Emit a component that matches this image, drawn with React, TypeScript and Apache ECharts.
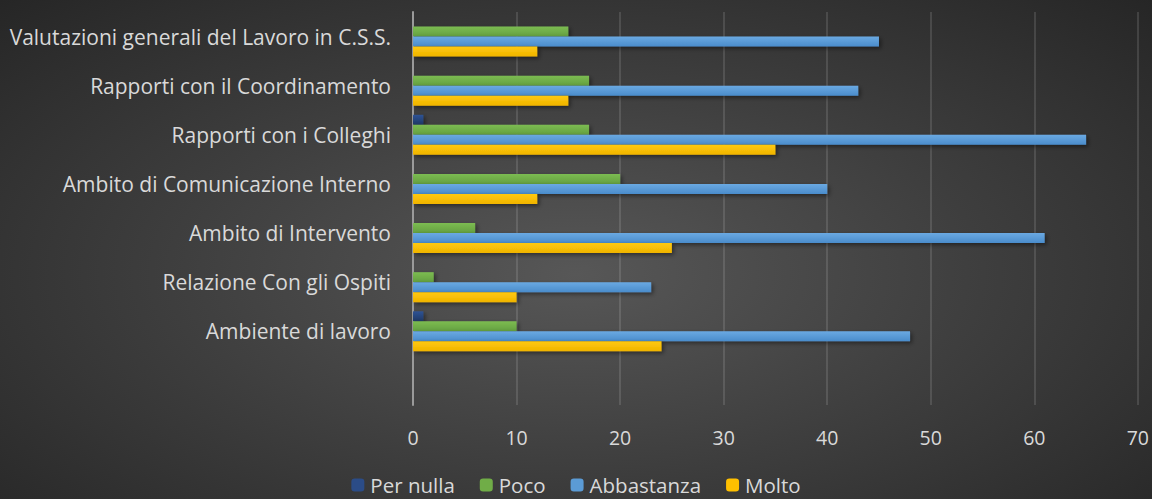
import React, { useEffect, useRef } from "react";
import * as echarts from "echarts";

const categories = [
  "",
  "Ambiente di lavoro",
  "Relazione Con gli Ospiti",
  "Ambito di Intervento",
  "Ambito di Comunicazione Interno",
  "Rapporti con i Colleghi",
  "Rapporti con il Coordinamento",
  "Valutazioni generali del Lavoro in C.S.S.",
];

const perNulla = [null, 1, 0, 0, 0, 1, 0, 0];
const poco = [null, 10, 2, 6, 20, 17, 17, 15];
const abbastanza = [null, 48, 23, 61, 40, 65, 43, 45];
const molto = [null, 24, 10, 25, 12, 35, 15, 12];

const seriesNames = ["Per nulla", "Poco", "Abbastanza", "Molto"];
const xTicks = [0, 10, 20, 30, 40, 50, 60, 70];

const grad = (top: string, bottom: string) =>
  new echarts.graphic.LinearGradient(0, 0, 0, 1, [
    { offset: 0, color: top },
    { offset: 1, color: bottom },
  ]);

export default function App() {
  const ref = useRef<HTMLDivElement>(null);
  useEffect(() => {
    document.body.style.margin = "0";
    const chart = echarts.init(ref.current!, null, { renderer: "svg" });
    const colors = [
      grad("#2e5395", "#1f3864"),
      grad("#7cbc52", "#64a03f"),
      grad("#6aa9e2", "#4a8ccb"),
      grad("#ffc90f", "#f0b400"),
    ];
    const legendColors = ["#2b4c87", "#70ad47", "#5b9bd5", "#ffc000"];
    const dataSets = [perNulla, poco, abbastanza, molto];
    const font = "Open Sans";
    chart.setOption({
      animation: false,
      textStyle: { fontFamily: font },
      legend: {
        top: 474,
        left: "center",
        itemWidth: 13,
        itemHeight: 13,
        itemGap: 25,
        padding: 0,
        textStyle: { color: "#d9d9d9", fontSize: 20.5, lineHeight: 22, fontFamily: font, padding: [0, 0, 0, 1] },
        data: seriesNames.map((n, i) => ({ name: n, itemStyle: { color: legendColors[i] } })),
      },
      grid: { left: 413, right: 13, top: 12, bottom: 94, containLabel: false },
      xAxis: {
        type: "value",
        min: 0,
        max: 70,
        interval: 10,
        axisLine: { show: false },
        axisTick: { show: false },
        axisLabel: {
          color: "#d9d9d9",
          fontSize: 19.5,
          margin: 22,
          formatter: (v: number) => (xTicks.includes(v) ? String(v) : ""),
        },
        splitLine: { lineStyle: { color: "rgba(255,255,255,0.12)", width: 2 } },
      },
      yAxis: {
        type: "category",
        data: categories,
        axisLine: { show: true, lineStyle: { color: "#9a9a9a", width: 2 } },
        axisTick: { show: false },
        axisLabel: { color: "#d9d9d9", fontSize: 21, margin: 22 },
      },
      series: seriesNames.map((name, i) => ({
        name,
        type: "bar",
        data: dataSets[i],
        barWidth: 10,
        barGap: "0%",
        itemStyle: {
          color: colors[i],
          shadowColor: "rgba(0,0,0,0.45)",
          shadowBlur: 4,
          shadowOffsetX: 2,
          shadowOffsetY: 2,
        },
      })),
    });
    return () => chart.dispose();
  }, []);
  return (
    <div
      ref={ref}
      style={{
        width: 1152,
        height: 499,
        background: "radial-gradient(ellipse at 50% 55%, #575757 0%, #3e3e3e 50%, #262626 100%)",
      }}
    />
  );
}
